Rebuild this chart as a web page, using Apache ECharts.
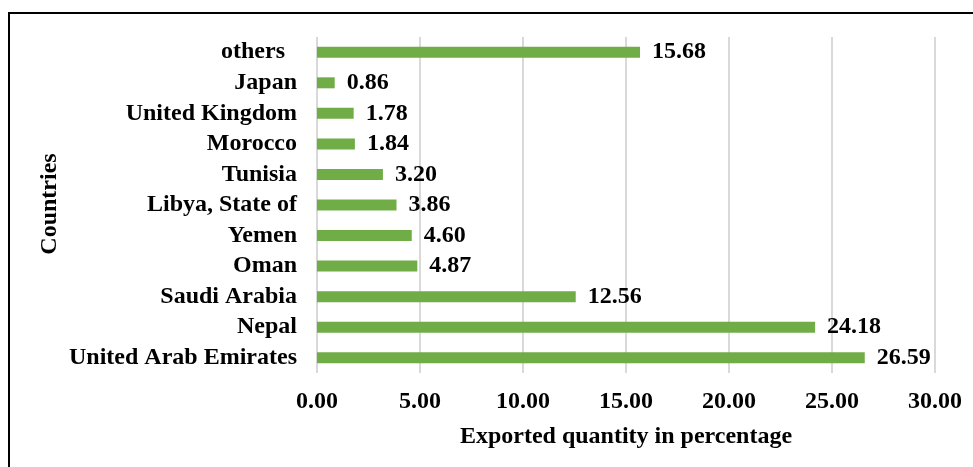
<!DOCTYPE html>
<html>
<head>
<meta charset="utf-8">
<script src="https://cdn.jsdelivr.net/npm/echarts@6/dist/echarts.min.js"></script>
<style>
html,body{margin:0;padding:0;background:#fff;}
#c{width:973px;height:467px;}
</style>
</head>
<body>
<div id="c"></div>
<script>
// Data (bottom to top order as drawn on category axis)
var countries = ["United Arab Emirates","Nepal","Saudi Arabia","Oman","Yemen","Libya, State of","Tunisia","Morocco","United Kingdom","Japan","others  "];
var shares = [26.59, 24.18, 12.56, 4.87, 4.60, 3.86, 3.20, 1.84, 1.78, 0.86, 15.68];
var xTicks = [0, 5, 10, 15, 20, 25, 30];
var yTitle = 'Countries';
var xTitle = 'Exported quantity in percentage';

var font = "'Liberation Serif','Times New Roman',serif";
var fs = 24;
var chart = echarts.init(document.getElementById('c'), null, {renderer:'canvas'});
chart.setOption({
  backgroundColor:'#fff',
  animation:false,
  graphic:[{
    type:'rect', shape:{x:9, y:13, width:1000, height:500},
    style:{fill:'none', stroke:'#000', lineWidth:2}, z:-1
  },{
    type:'text', x:50, y:204, rotation:Math.PI/2,
    style:{text:yTitle, fontFamily:font, fontWeight:'bold', fontSize:fs, fill:'#000', align:'center', verticalAlign:'middle'}
  }],
  grid:{left:317, top:37, width:618, height:336, containLabel:false},
  xAxis:{
    type:'value', min:xTicks[0], max:xTicks[xTicks.length-1], interval:5,
    name:xTitle, nameLocation:'middle', nameGap:52,
    nameTextStyle:{fontFamily:font, fontWeight:'bold', fontSize:fs, color:'#000'},
    axisLine:{show:false}, axisTick:{show:false},
    axisLabel:{fontFamily:font, fontWeight:'bold', fontSize:fs, color:'#000', margin:17,
      formatter:function(v){return v.toFixed(2);}},
    splitLine:{show:true, lineStyle:{color:'#d9d9d9', width:2}}
  },
  yAxis:{
    type:'category', data:countries,
    axisLine:{show:false}, axisTick:{show:false},
    axisLabel:{interval:0, hideOverlap:false, fontFamily:font, fontWeight:'bold', fontSize:fs, color:'#000', margin:20}
  },
  series:[{
    type:'bar', data:shares, barWidth:11,
    itemStyle:{color:'#70ad47'},
    label:{show:true, position:'right', distance:12, fontFamily:font, fontWeight:'bold', fontSize:fs, color:'#000',
      formatter:function(p){return p.value.toFixed(2);}}
  }]
});
</script>
</body>
</html>
